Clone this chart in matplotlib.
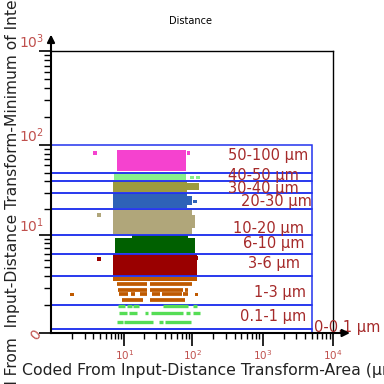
import numpy as np
import matplotlib
matplotlib.use("Agg")
import matplotlib.pyplot as plt
from matplotlib.patches import Rectangle

# gates (y ranges, distance in um)
gate_lo = [0, 0.1, 1, 3, 6, 10, 20, 30, 40, 50]
gate_hi = [0.1, 1, 3, 6, 10, 20, 30, 40, 50, 100]
gate_names = ['0-0.1 µm', '0.1-1 µm', '1-3 µm', '3-6 µm', '6-10 µm',
              '10-20 µm', '20-30 µm', '30-40 µm', '40-50 µm', '50-100 µm']
gate_xmax = 5000

# dense populations: blocks (x0, x1, y0, y1)
pop_colors = ['#f542cf', '#88f08c', '#9c9a3e', '#2e62b8', '#b0a67a',
              '#006000', '#9a0000', '#bf5a00']
pop_blocks = [
    [(7.6, 80, 51.5, 88)],
    [(6.8, 80, 41, 49.5)],
    [(6.6, 84, 30.5, 40), (84, 125, 32, 38)],
    [(6.6, 85, 20.5, 30), (85, 100, 22, 28)],
    [(6.6, 99, 10.3, 20), (99, 109, 12, 17)],
    [(7.1, 109, 6.1, 9.2), (13, 88, 9.2, 10)],
    [(6.6, 115, 3.05, 6.0)],
    [(6.6, 115, 2.55, 2.95)],
]

# discrete rows (y, x0, x1)
orange_rows = [(2.32, 7.5, 21.8), (2.32, 24.3, 98),
               (1.90, 8.0, 21.8), (1.90, 24.3, 74.5), (1.90, 79, 87),
               (1.57, 8.3, 11.5), (1.57, 12.6, 14.5), (1.57, 17.3, 21.8),
               (1.57, 25.7, 34), (1.57, 36, 70.4), (1.57, 74.5, 87),
               (1.27, 9.1, 19.5), (1.27, 24.3, 79)]
green_rows = [(0.94, 8.0, 10.2), (0.94, 10.8, 12.9), (0.94, 13.7, 16.9),
              (0.94, 38.2, 87), (0.94, 101, 115),
              (0.62, 8.3, 10.8), (0.62, 11.9, 15.4), (0.62, 20.5, 23),
              (0.62, 24.9, 74.5), (0.62, 81, 92.7), (0.62, 101, 129),
              (0.30, 7.5, 9.6), (0.30, 9.85, 27.3), (0.30, 33.4, 38.2),
              (0.30, 40.4, 94.7)]

# single events (x, y, colour)
out_x = [3.2, 88, 98, 122, 109, 3.8, 3.8, 115, 0.99, 115]
out_y = [81.8, 81.8, 44.3, 44.3, 24, 16.9, 5.1, 5.3, 1.57, 1.57]
out_c = ['#f542cf', '#f542cf', '#88f08c', '#88f08c', '#2e62b8',
         '#b0a67a', '#9a0000', '#9a0000', '#bf5a00', '#bf5a00']

label_red = '#c0504d'
gate_blue = '#2233ee'
text_red = '#a52a2a'


def fwd(v):
    return np.log10(1 + np.clip(v, -0.99, None))


def inv(u):
    return 10 ** np.asarray(u) - 1


fig = plt.figure(figsize=(3.84, 3.84), dpi=100)
ax = fig.add_axes([51 / 384, 51 / 384, 282 / 384, 282 / 384])
ax.set_xscale('function', functions=(fwd, inv))
ax.set_yscale('function', functions=(fwd, inv))
ax.set_xlim(0, 1e4)
ax.set_ylim(0, 1e3)

for col, blocks in zip(pop_colors, pop_blocks):
    for x0, x1, y0, y1 in blocks:
        ax.add_patch(Rectangle((x0, y0), x1 - x0, y1 - y0, facecolor=col,
                               edgecolor='none'))
for y, x0, x1 in orange_rows:
    ax.hlines(y, x0, x1, color='#bf5a00', lw=2.7)
for y, x0, x1 in green_rows:
    ax.hlines(y, x0, x1, color='#55dd55', lw=2.4)
ax.scatter(out_x, out_y, c=out_c, marker='s', s=7, linewidths=0)

for lo, hi in zip(gate_lo, gate_hi):
    ax.add_patch(Rectangle((0, lo), gate_xmax, hi - lo, facecolor='none',
                           edgecolor=gate_blue, lw=1.1, clip_on=False))

# gate labels (axes fraction)
lab_pos = [(1.05, 0.021), (0.787, 0.057), (0.812, 0.142), (0.791, 0.248),
           (0.791, 0.316), (0.77, 0.372), (0.801, 0.465), (0.752, 0.514),
           (0.752, 0.560), (0.77, 0.631)]
for name, (px, py) in zip(gate_names, lab_pos):
    ax.text(px, py, name, transform=ax.transAxes, color=text_red,
            fontsize=10.5, ha='center', va='center', clip_on=False)

# ticks
minor = [m * 10 ** k for k in range(0, 4) for m in range(2, 10)] + [1]
ax.set_xticks([10, 100, 1000, 10000],
              labels=['$10^{1}$', '$10^{2}$', '$10^{3}$', '$10^{4}$'])
ax.set_xticks(minor, minor=True)
ax.set_yticks([0, 10, 100, 1000],
              labels=['0', '$10^{1}$', '$10^{2}$', '$10^{3}$'])
ax.set_yticks([m for m in minor if m < 1000], minor=True)
ax.tick_params(axis='x', which='major', length=9, width=1.2, pad=2,
               labelsize=7.5, labelcolor=label_red)
ax.tick_params(axis='x', which='minor', length=4, width=1.0)
ax.tick_params(axis='y', which='major', length=9, width=1.2, pad=-4,
               labelsize=10, labelcolor=label_red)
ax.tick_params(axis='y', which='minor', length=5, width=1.0)
for t in ax.get_yticklabels()[1:]:
    t.set_verticalalignment('bottom')
ax.get_yticklabels()[0].set_rotation(50)

for s in ['left', 'bottom']:
    ax.spines[s].set_linewidth(1.5)
for s in ['top', 'right']:
    ax.spines[s].set_linewidth(1.0)

ax.annotate('', xy=(0, 1.068), xytext=(0, 0.99), xycoords='axes fraction',
            arrowprops=dict(arrowstyle='-|>', color='k', lw=1.5,
                            mutation_scale=11), annotation_clip=False)
ax.annotate('', xy=(1.07, 0), xytext=(0.99, 0), xycoords='axes fraction',
            arrowprops=dict(arrowstyle='-|>', color='k', lw=1.5,
                            mutation_scale=11), annotation_clip=False)

fig.text(190 / 384, 1 - 21 / 384, 'Distance', fontsize=7, ha='center',
         va='center')
fig.text(22 / 384, 1 - 370 / 384,
         'Coded From Input-Distance Transform-Area (µm²)', fontsize=11.3,
         ha='left', va='center', color='#222222')
fig.text(13 / 384, 1 - 196 / 384,
         'Coded From  Input-Distance Transform-Minimum of Intensity',
         fontsize=11.2, rotation=90, ha='center', va='center',
         color='#222222')

fig.savefig('out.png', dpi=100)
